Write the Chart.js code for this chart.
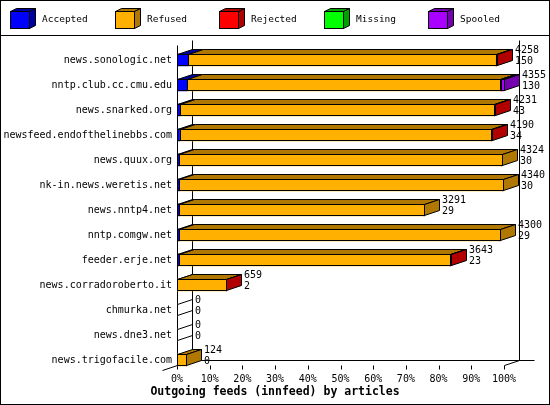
<!DOCTYPE html>
<html><head><meta charset="utf-8">
<script src="https://cdn.jsdelivr.net/npm/chart.js@4.4.0/dist/chart.umd.min.js"></script>
<style>html,body{margin:0;padding:0;background:#fff}</style>
</head><body>
<canvas id="c" width="550" height="405"></canvas>
<script>
const categories = ['news.sonologic.net','nntp.club.cc.cmu.edu','news.snarked.org','newsfeed.endofthelinebbs.com','news.quux.org','nk-in.news.weretis.net','news.nntp4.net','nntp.comgw.net','feeder.erje.net','news.corradoroberto.it','chmurka.net','news.dne3.net','news.trigofacile.com'];
const offered  = [4258,4355,4231,4190,4324,4340,3291,4300,3643,659,0,0,124];
const accepted = [150,130,43,34,30,30,29,29,23,2,0,0,0];
const refused  = [4093,4178,4180,4150,4294,4310,3262,4271,3610,652,0,0,124];
const rejected = [15,12,8,6,0,0,0,0,10,5,0,0,0];
const missing  = [0,0,0,0,0,0,0,0,0,0,0,0,0];
const spooled  = [0,35,0,0,0,0,0,0,0,0,0,0,0];
const seriesNames = ['Accepted','Refused','Rejected','Missing','Spooled'];
const frontColors = ['#0000ff','#ffb000','#ff0000','#00ff00','#aa00ff'];
const darkColors  = ['#0000a0','#b07800','#b00000','#00a000','#7400b0'];
const tickStep = 10;
const titleText = 'Outgoing feeds (innfeed) by articles';

const maxOffered = Math.max(...offered);
const pct = arr => arr.map(v => v / maxOffered * 100);
const seriesValues = [accepted, refused, rejected, missing, spooled];

const DX = 15, DY = 5;
const MONO = "'DejaVu Sans Mono', monospace";

function poly(ctx, pts, fill) {
  ctx.beginPath();
  ctx.moveTo(pts[0][0], pts[0][1]);
  for (let k = 1; k < pts.length; k++) ctx.lineTo(pts[k][0], pts[k][1]);
  ctx.closePath();
  if (fill) { ctx.fillStyle = fill; ctx.fill(); }
  ctx.stroke();
}
function line(ctx, x1, y1, x2, y2) {
  ctx.beginPath(); ctx.moveTo(x1, y1); ctx.lineTo(x2, y2); ctx.stroke();
}

const threeD = {
  id: 'threeD',
  beforeDatasetsDraw(chart) {
    const ctx = chart.ctx, xs = chart.scales.x, ys = chart.scales.y;
    const x0 = Math.round(xs.getPixelForValue(0)) + 0.5;
    const x1 = Math.round(xs.getPixelForValue(100)) + 0.5;
    const top = Math.round(ys.getPixelForValue(0) - 15) + 0.5;
    const floor = Math.round(ys.getPixelForValue(categories.length - 1) + 5) + 0.5;
    ctx.save();
    ctx.strokeStyle = '#000'; ctx.lineWidth = 1;
    line(ctx, x0, top, x0, floor);
    line(ctx, x0 + DX, top - DY, x0 + DX, floor - DY);
    line(ctx, x1 + DX, top - DY, x1 + DX, floor - DY);
    line(ctx, x0 + DX, floor - DY, x1 + DX + 15, floor - DY);
    line(ctx, x0 - 15, floor + DY, x0 + DX, floor - DY);
    line(ctx, x1, floor, x1 + DX, floor - DY);
    for (let t = 0; t <= 100; t += tickStep) {
      const px = Math.round(xs.getPixelForValue(t)) + 0.5;
      line(ctx, px, floor, px, floor + 4);
    }
    ctx.restore();
  },
  afterDatasetsDraw(chart) {
    const ctx = chart.ctx, xs = chart.scales.x;
    const x0 = Math.round(xs.getPixelForValue(0));
    ctx.save();
    ctx.strokeStyle = '#000'; ctx.lineWidth = 1;
    for (let i = 0; i < categories.length; i++) {
      let last = -1, endR = x0, T = 0, B = 0, yc = 0;
      for (let d = 0; d < seriesValues.length; d++) {
        const el = chart.getDatasetMeta(d).data[i];
        yc = el.y;
        T = Math.round(el.y - el.height / 2);
        B = Math.round(el.y + el.height / 2) - 1;
        if (seriesValues[d][i] <= 0) continue;
        const L = Math.round(Math.min(el.base, el.x));
        const R = Math.round(Math.max(el.base, el.x));
        last = d; endR = R;
        if (R > L) {
          poly(ctx, [[L + .5, T + .5], [R + .5, T + .5], [R + .5 + DX, T + .5 - DY], [L + .5 + DX, T + .5 - DY]], darkColors[d]);
          ctx.strokeRect(L + .5, T + .5, R - L, B - T);
        } else {
          line(ctx, L + .5, T + .5, L + .5 + DX, T + .5 - DY);
          line(ctx, L + .5, T + .5, L + .5, B + .5);
        }
      }
      const sideFill = last >= 0 ? darkColors[last] : null;
      poly(ctx, [[endR + .5, T + .5], [endR + .5 + DX, T + .5 - DY], [endR + .5 + DX, B + .5 - DY], [endR + .5, B + .5]], sideFill);
      ctx.fillStyle = '#000';
      ctx.font = '10px ' + MONO;
      ctx.textAlign = 'left'; ctx.textBaseline = 'middle';
      ctx.fillText(String(offered[i]), endR + DX + 3, yc - 10);
      ctx.fillText(String(accepted[i]), endR + DX + 3, yc + 1);
    }
    ctx.restore();
  },
  afterDraw(chart) {
    const ctx = chart.ctx;
    ctx.save();
    ctx.strokeStyle = '#000'; ctx.lineWidth = 1;
    for (let k = 0; k < seriesNames.length; k++) {
      const bx = Math.round(10 + 104.5 * k) + 0.5;
      poly(ctx, [[bx, 11.5], [bx + 6, 8.5], [bx + 25, 8.5], [bx + 19, 11.5]], darkColors[k]);
      poly(ctx, [[bx + 19, 11.5], [bx + 25, 8.5], [bx + 25, 25.5], [bx + 19, 28.5]], darkColors[k]);
      ctx.fillStyle = frontColors[k];
      ctx.fillRect(bx, 11.5, 19, 17);
      ctx.strokeRect(bx, 11.5, 19, 17);
      ctx.fillStyle = '#000';
      ctx.font = '9.5px ' + MONO;
      ctx.textAlign = 'left'; ctx.textBaseline = 'middle';
      ctx.fillText(seriesNames[k], bx + 31.5, 20);
    }
    line(ctx, 0, 35.5, 550, 35.5);
    ctx.strokeRect(0.5, 0.5, 549, 404);
    ctx.restore();
  }
};

Chart.defaults.font.family = MONO;
Chart.defaults.color = '#000';

new Chart(document.getElementById('c'), {
  type: 'bar',
  data: {
    labels: categories,
    datasets: seriesNames.map((n, d) => ({
      label: n,
      data: pct(seriesValues[d]),
      backgroundColor: frontColors[d],
      borderWidth: 0,
      barThickness: 12,
      stack: 's'
    }))
  },
  options: {
    indexAxis: 'y',
    responsive: false,
    animation: false,
    devicePixelRatio: 1,
    layout: { padding: { top: 47.5, right: 0, left: 0, bottom: 0 } },
    plugins: {
      legend: { display: false },
      tooltip: { enabled: false },
      title: {
        display: true, position: 'bottom', text: titleText, color: '#000',
        font: { family: MONO, size: 11.5, weight: 'bold', lineHeight: 1.2 },
        padding: { top: 0, bottom: 6 }
      }
    },
    scales: {
      x: {
        type: 'linear', min: 0, max: 100, stacked: true,
        grid: { display: false, drawTicks: false }, border: { display: false },
        ticks: { stepSize: tickStep, callback: v => v + '%', font: { size: 10 }, padding: 1, maxRotation: 0, autoSkip: false },
        afterFit(s) { s.height = 12.7; }
      },
      y: {
        stacked: true,
        grid: { display: false, drawTicks: false }, border: { display: false },
        ticks: { font: { size: 10 }, padding: 5, autoSkip: false },
        afterFit(s) { s.width = 177; }
      },
      yRight: {
        type: 'linear', position: 'right', display: true,
        grid: { display: false, drawTicks: false }, border: { display: false },
        ticks: { display: false },
        afterFit(s) { s.width = 46; }
      }
    }
  },
  plugins: [threeD]
});
</script>
</body></html>
